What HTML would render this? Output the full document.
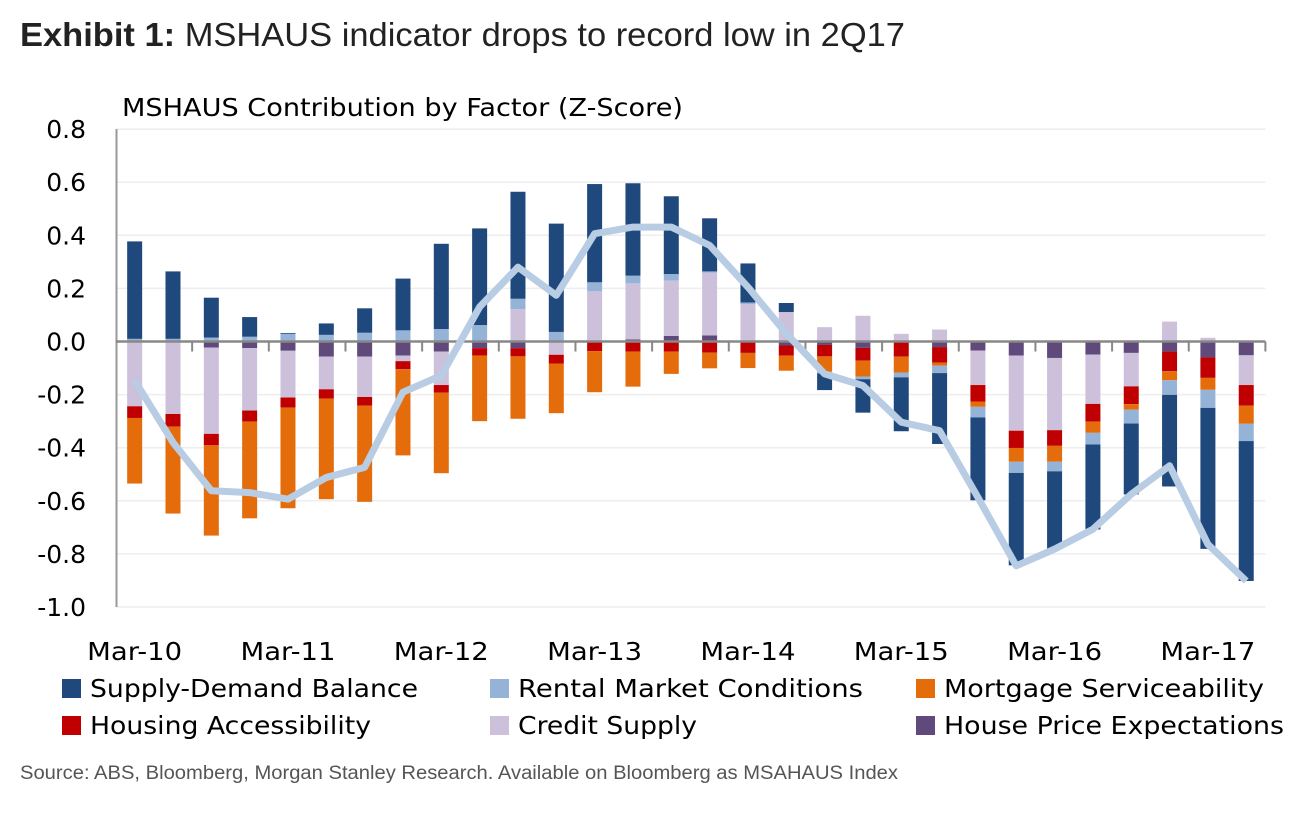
<!DOCTYPE html>
<html><head><meta charset="utf-8"><style>
body{margin:0;background:#fff;width:1295px;height:815px;overflow:hidden;font-family:"Liberation Sans",sans-serif}
</style></head><body>
<svg width="1295" height="815" xmlns="http://www.w3.org/2000/svg">
<text x="20" y="46" font-size="33" fill="#222" textLength="885" lengthAdjust="spacingAndGlyphs"><tspan font-weight="bold">Exhibit 1:</tspan>  MSHAUS indicator drops to record low in 2Q17</text>
<text x="122" y="116" font-family="DejaVu Sans" font-size="25" fill="#000" textLength="561" lengthAdjust="spacingAndGlyphs">MSHAUS Contribution by Factor (Z-Score)</text>
<g id="grid"></g><g id="bars"></g><g id="axes"></g><g id="line"></g><g id="legend"></g>
<text x="20" y="779" font-size="19" fill="#555" textLength="878" lengthAdjust="spacingAndGlyphs">Source: ABS, Bloomberg, Morgan Stanley Research. Available on Bloomberg as MSAHAUS Index</text>
</svg>
<script>
const categories=[];for(let y=10;y<=17;y++)for(const m of ["Mar","Jun","Sep","Dec"]){if(categories.length<30)categories.push(m+"-"+y);}
const seriesNames=["House Price Expectations","Credit Supply","Housing Accessibility","Mortgage Serviceability","Rental Market Conditions","Supply-Demand Balance"];
const hpe=[0,0,-0.023,-0.025,-0.035,-0.057,-0.057,-0.053,-0.038,-0.025,-0.025,0,0,0.008,0.021,0.023,0,-0.015,-0.013,-0.024,0,-0.021,-0.034,-0.053,-0.062,-0.049,-0.043,-0.038,-0.06,-0.052];
const credit=[-0.244,-0.273,-0.325,-0.235,-0.176,-0.123,-0.152,-0.021,-0.126,0,0.122,-0.05,0.189,0.211,0.209,0.236,0.141,0.111,0.054,0.097,0.029,0.045,-0.13,-0.283,-0.272,-0.186,-0.126,0.075,0.014,-0.112];
const access=[-0.044,-0.047,-0.043,-0.042,-0.038,-0.035,-0.033,-0.03,-0.029,-0.028,-0.031,-0.033,-0.036,-0.038,-0.038,-0.042,-0.043,-0.038,-0.043,-0.048,-0.057,-0.059,-0.062,-0.065,-0.059,-0.067,-0.067,-0.074,-0.077,-0.078];
const mortgage=[-0.247,-0.328,-0.34,-0.364,-0.379,-0.379,-0.362,-0.325,-0.303,-0.247,-0.235,-0.187,-0.155,-0.132,-0.084,-0.059,-0.057,-0.057,-0.058,-0.06,-0.06,-0.011,-0.02,-0.052,-0.06,-0.042,-0.021,-0.034,-0.045,-0.068];
const rental=[0.01,0.01,0.015,0.018,0.029,0.025,0.033,0.042,0.047,0.062,0.039,0.036,0.034,0.029,0.024,0.005,0.006,0,-0.006,-0.01,-0.018,-0.028,-0.04,-0.042,-0.036,-0.044,-0.052,-0.055,-0.068,-0.065];
const supply=[0.367,0.254,0.15,0.074,0.003,0.043,0.092,0.195,0.321,0.364,0.403,0.408,0.37,0.348,0.293,0.2,0.147,0.034,-0.063,-0.126,-0.203,-0.267,-0.312,-0.348,-0.291,-0.32,-0.267,-0.345,-0.531,-0.527];
const total=[-0.147,-0.38,-0.562,-0.569,-0.594,-0.512,-0.474,-0.191,-0.128,0.13,0.28,0.174,0.406,0.431,0.431,0.362,0.205,0.03,-0.122,-0.166,-0.304,-0.336,-0.587,-0.845,-0.782,-0.707,-0.575,-0.468,-0.764,-0.902];
const yTicks=[0.8,0.6,0.4,0.2,0,-0.2,-0.4,-0.6,-0.8,-1.0];
const xLabelIdx=[0,4,8,12,16,20,24,28];
const colors=["#604a7b","#ccc0da","#c00000","#e46c0a","#95b3d7","#1f497d"];
const NS="http://www.w3.org/2000/svg";
const X0=115.5,STEP=38.33,Y0=341.5,PX=265.5;
const xs=i=>X0+STEP*(i+0.5), ys=v=>Y0-v*PX;
function mk(p,t,a,txt){const e=document.createElementNS(NS,t);for(const k in a)e.setAttribute(k,a[k]);if(txt!==undefined)e.textContent=txt;p.appendChild(e);return e;}
const G=id=>document.getElementById(id);
yTicks.forEach(v=>{
 const l=mk(G("grid"),"line",{x1:X0,x2:X0+STEP*30,y1:ys(v),y2:ys(v),stroke:"#eeeeee","stroke-width":1.5});
 
 
 const t=mk(G("axes"),"text",{x:86,y:ys(v)+9,"text-anchor":"end","font-family":"DejaVu Sans","font-size":25,fill:"#000"},v.toFixed(1));
 
 
});
const series=[hpe,credit,access,mortgage,rental,supply];
categories.forEach((c,i)=>{
 let pos=0,neg=0;
 series.forEach((s,k)=>{const v=s[i];if(!v)return;let a,b;if(v>0){a=pos;b=pos+v;pos=b;}else{a=neg;b=neg+v;neg=b;}
  const r=mk(G("bars"),"rect",{x:xs(i)-7.5,width:15,y:Math.min(ys(a),ys(b)),height:Math.abs(ys(a)-ys(b)),fill:colors[k]});
  
  
 });
});
const ax=mk(G("axes"),"line",{x1:X0+1,x2:X0+1,y1:ys(0.8),y2:ys(-1),stroke:"#999","stroke-width":2});


const zl=mk(G("axes"),"line",{x1:X0,x2:X0+STEP*30,y1:Y0,y2:Y0,stroke:"#888","stroke-width":2.5});


for(let j=2;j<=30;j+=2){const tk=mk(G("axes"),"line",{x1:X0+STEP*j,x2:X0+STEP*j,y1:Y0,y2:Y0+10,stroke:"#888","stroke-width":2});
 
 }
xLabelIdx.forEach(i=>{const t=mk(G("axes"),"text",{x:xs(i),y:660,"text-anchor":"middle","font-family":"DejaVu Sans","font-size":25,fill:"#000",textLength:95,lengthAdjust:"spacingAndGlyphs"},categories[i]);
 
 });
const pl=mk(G("line"),"polyline",{points:total.map((v,i)=>xs(i)+","+ys(v)).join(" "),fill:"none",stroke:"#b8cce4","stroke-width":7,"stroke-linejoin":"round"});


const leg=[["Supply-Demand Balance","#1f497d",62,689,328],["Rental Market Conditions","#95b3d7",490,689,345],["Mortgage Serviceability","#e46c0a",916,689,320],["Housing Accessibility","#c00000",62,726,281],["Credit Supply","#ccc0da",490,726,179],["House Price Expectations","#604a7b",916,726,340]];
leg.forEach(([n,c,x,y,w])=>{const g=mk(G("legend"),"g",{});
 
 
 mk(g,"rect",{x:x,y:y-10,width:19,height:19,fill:c});
 mk(g,"text",{x:x+28,y:y+8,"font-family":"DejaVu Sans","font-size":25,fill:"#000",textLength:w,lengthAdjust:"spacingAndGlyphs"},n);});
</script>
</body></html>
